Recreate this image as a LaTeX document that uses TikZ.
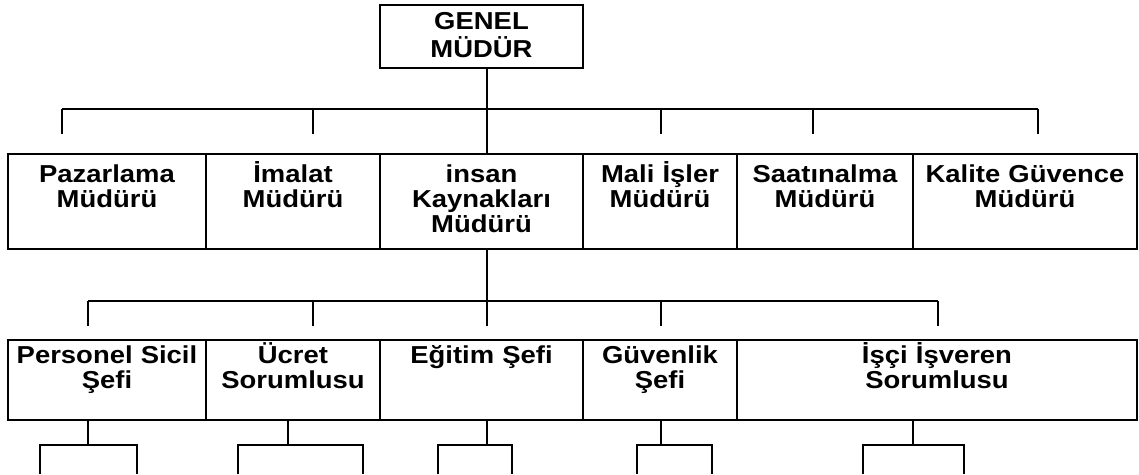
\documentclass[tikz,border=0pt]{standalone}
\usepackage{fontspec}
\newfontfamily\orgfont{Liberation Sans}[FakeStretch=1.12]
\usetikzlibrary{positioning}
\begin{document}
\begin{tikzpicture}[x=1pt, y=-1pt,
line width=1.8pt,
box/.style ={rectangle, draw, inner sep=0pt, outer sep=0pt},
ust/.style ={box, minimum width=203pt, minimum height=63pt},
sira1/.style ={box, minimum height=95pt},
sira2/.style ={box, minimum height=80pt},
lbl/.style ={text width=230pt, align=center, inner sep=0pt, font=\orgfont\bfseries\fontsize{24.5}{25}\selectfont,
execute at begin node={\rule{0pt}{27pt}}}
]
    \useasboundingbox (0,0) rectangle (1139,474);
    % genel mudur
    \node[ust] (GM) at (481.5,36.5) {};
    \node[lbl, font=\orgfont\bfseries\fontsize{24.5}{28}\selectfont] (GMt) [below=-3pt of GM.north] {GENEL\\MÜDÜR};
    % mudurler
    \node[sira1, minimum width=198pt] (PM) at (107,201.5) {};
    \node[sira1, minimum width=174pt] (IM) at (293,201.5) {};
    \node[sira1, minimum width=203pt] (IK) at (481.5,201.5) {};
    \node[sira1, minimum width=154pt] (MM) at (660,201.5) {};
    \node[sira1, minimum width=176pt] (SM) at (825,201.5) {};
    \node[sira1, minimum width=224pt] (KM) at (1025,201.5) {};
    \node[lbl] (PMt) [below=1pt of PM.north] {Pazarlama\\Müdürü};
    \node[lbl] (IMt) [below=1pt of IM.north] {İmalat\\Müdürü};
    \node[lbl] (IKt) [below=1pt of IK.north] {insan\\Kaynakları\\Müdürü};
    \node[lbl] (MMt) [below=1pt of MM.north] {Mali İşler\\Müdürü};
    \node[lbl] (SMt) [below=1pt of SM.north] {Saatınalma\\Müdürü};
    \node[lbl] (KMt) [below=1pt of KM.north] {Kalite Güvence\\Müdürü};
    % sefler
    \node[sira2, minimum width=198pt] (PS) at (107,380) {};
    \node[sira2, minimum width=174pt] (UC) at (293,380) {};
    \node[sira2, minimum width=203pt] (ES) at (481.5,380) {};
    \node[sira2, minimum width=154pt] (GS) at (660,380) {};
    \node[sira2, minimum width=400pt] (IS) at (937,380) {};
    \node[lbl] (PSt) [below=-4pt of PS.north] {Personel Sicil\\Şefi};
    \node[lbl] (UCt) [below=-4pt of UC.north] {Ücret\\Sorumlusu};
    \node[lbl] (ESt) [below=-4pt of ES.north] {Eğitim Şefi};
    \node[lbl] (GSt) [below=-4pt of GS.north] {Güvenlik\\Şefi};
    \node[lbl] (ISt) [below=-4pt of IS.north] {İşçi İşveren\\Sorumlusu};
    % ilk hat
    \draw ([xshift=5.5pt]GM.south) to ([xshift=5.5pt]IK.north);
    \coordinate (B1) at (62,109);
    \coordinate (B2) at (1038,109);
    \draw (B1) to (B2);
    \foreach \x [count=\i] in {62,313,661,813,1038} {
      \coordinate (u\i) at (\x,134);
      \draw (u\i |- B1) to (u\i);
    }
    % ikinci hat
    \coordinate (C1) at (88,301);
    \coordinate (C2) at (938,301);
    \coordinate (S2) at (487,326);
    \draw (C1) to (C2);
    \draw (IK.south -| S2) to (S2);
    \foreach \x [count=\i] in {88,313,661,938} {
      \coordinate (v\i) at (\x,326);
      \draw (v\i |- C1) to (v\i);
    }
    % alt dallar
    \foreach \b/\c/\l/\r [count=\i] in {PS/88/40/137, UC/288/238/363, ES/487/438/512, GS/661/637/712, IS/913/863/964} {
      \coordinate (f\i) at (\c,445);
      \coordinate (fl\i) at (\l,474);
      \coordinate (fr\i) at (\r,474);
      \draw (\b.south -| f\i) to (f\i);
      \draw (fl\i) |- (f\i) -| (fr\i);
    }
\end{tikzpicture}
\end{document}
